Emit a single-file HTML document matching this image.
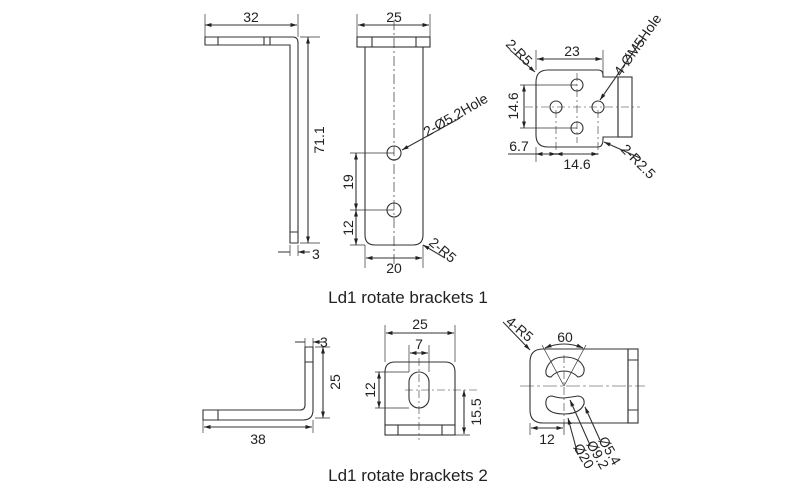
<!DOCTYPE html>
<html><head><style>body{margin:0;background:#fff}svg{display:block}text{font-family:"Liberation Sans",sans-serif;fill:#222}</style></head><body>
<svg width="800" height="500" viewBox="0 0 800 500" xmlns="http://www.w3.org/2000/svg">
<defs><marker id="a" viewBox="0 0 10 10" refX="10" refY="5" markerWidth="6" markerHeight="6" orient="auto-start-reverse"><path d="M0,2L10,5L0,8z" fill="#222"/></marker></defs>
<g fill="none" stroke="#333" stroke-width="1.1">
<path d="M205,37H293Q298,37 298,43V243H290V45H205Z"/>
<path d="M218,37V45M264,37V45M270,37V45M290,232H298"/>
<path d="M205,14V37M298,14V37" stroke-width="0.7"/>
<path d="M205,25H297" marker-start="url(#a)" marker-end="url(#a)"/>
<path d="M300,37H320M300,243H320" stroke-width="0.7"/>
<path d="M308,37V243" marker-start="url(#a)" marker-end="url(#a)"/>
<path d="M290,245V256M298,245V256" stroke-width="0.7"/>
<path d="M278,252H290M310,252H298" marker-end="url(#a)"/>
<rect x="357" y="37" width="73" height="10"/>
<path d="M372,37V47M416,37V47"/>
<path d="M365,47V235Q365,245 375,245H413Q423,245 423,235V47"/>
<path d="M394,20V265" stroke-dasharray="10,3,2,3" stroke-width="0.7"/>
<circle cx="394" cy="153" r="7"/><circle cx="394" cy="210" r="7"/>
<path d="M357,14V37M430,14V37M365,245V268M423,245V268" stroke-width="0.7"/>
<path d="M358,25H429" marker-start="url(#a)" marker-end="url(#a)"/>
<path d="M366,258H422" marker-start="url(#a)" marker-end="url(#a)"/>
<path d="M350,153H394M350,210H394M350,245H365" stroke-width="0.7"/>
<path d="M356,153V210" marker-start="url(#a)" marker-end="url(#a)"/>
<path d="M356,210V245" marker-start="url(#a)" marker-end="url(#a)"/>
<path d="M460,118L402,150" marker-end="url(#a)"/>
<path d="M445,258L423,245" marker-end="url(#a)"/>
<path d="M548,70H598Q603,70 603,75V77H618V137H603V139Q603,147 598,147H548Q536,147 536,135V82Q536,70 548,70Z"/>
<rect x="618" y="77" width="14" height="60"/>
<path d="M525,107H640M577,73V143M556,110V158M598,110V158" stroke-width="0.6" stroke-dasharray="8,3,2,3"/>
<circle cx="577" cy="85" r="6"/><circle cx="556" cy="107" r="6"/><circle cx="598" cy="107" r="6"/><circle cx="577" cy="128" r="6"/>
<path d="M536,50V70M603,50V77" stroke-width="0.7"/>
<path d="M537,59H602" marker-start="url(#a)" marker-end="url(#a)"/>
<path d="M520,85H577M520,128H577" stroke-width="0.7"/>
<path d="M524,85V128" marker-start="url(#a)" marker-end="url(#a)"/>
<path d="M536,147V162" stroke-width="0.7"/>
<path d="M508,154H536M537,154H555M557,154H597" />
<path d="M540,154H536" marker-end="url(#a)"/><path d="M552,154H556" marker-end="url(#a)"/>
<path d="M560,154H556" marker-end="url(#a)"/><path d="M594,154H598" marker-end="url(#a)"/>
<path d="M510,50L535,72" marker-end="url(#a)"/>
<path d="M643,38L600,100" marker-end="url(#a)"/>
<path d="M640,158L604,142" marker-end="url(#a)"/>
<path d="M305,347H313V410Q313,420 303,420H203V410H300Q305,410 305,405Z"/>
<path d="M305,362H313M218,410V420"/>
<path d="M315,347H330M315,418H330M203,420V433M313,420V433" stroke-width="0.7"/>
<path d="M323,347V418" marker-start="url(#a)" marker-end="url(#a)"/>
<path d="M204,427H312" marker-start="url(#a)" marker-end="url(#a)"/>
<path d="M305,338V347M313,338V347" stroke-width="0.7"/>
<path d="M295,342H305M323,342H313" marker-end="url(#a)"/>
<path d="M385,425V372Q385,362 395,362H445Q455,362 455,372V425"/>
<rect x="385" y="425" width="70" height="10"/>
<path d="M398,425V435M442,425V435"/>
<rect x="409" y="372" width="20" height="36" rx="10"/>
<path d="M419,358V440M405,390H480" stroke-width="0.6" stroke-dasharray="8,3,2,3"/>
<path d="M385,325V362M455,325V362M409,345V372M429,345V372" stroke-width="0.7"/>
<path d="M386,333H454" marker-start="url(#a)" marker-end="url(#a)"/>
<path d="M410,353H428" marker-start="url(#a)" marker-end="url(#a)"/>
<path d="M375,372H409M375,408H409M455,435H470" stroke-width="0.7"/>
<path d="M379,372V408" marker-start="url(#a)" marker-end="url(#a)"/>
<path d="M464,390V434" marker-start="url(#a)" marker-end="url(#a)"/>
<path d="M543,349H628V423H543Q530,423 530,410V362Q530,349 543,349Z"/>
<rect x="628" y="349" width="10" height="74"/>
<path d="M628,360H638M628,410H638"/>
<path d="M520,386H645" stroke-width="0.6" stroke-dasharray="14,3,3,3"/>
<path d="M564,355V430" stroke-width="0.6" stroke-dasharray="8,3,2,3"/>
<path d="M546,370Q550,357 564,357Q580,357 584,368Q585,376 578,377Q572,371 564,371Q556,371 551,377Q545,377 546,370Z"/>
<path d="M546,405Q545,396 552,396Q558,398 564,398Q572,397 578,396Q585,397 584,404Q580,414 564,414Q548,414 546,405Z"/>
<path d="M564,386L542,345M564,386L586,345" stroke-width="0.7"/>
<path d="M545,348Q564,340 583,348" marker-start="url(#a)" marker-end="url(#a)"/>
<path d="M530,423V435M564,423V435" stroke-width="0.7"/>
<path d="M531,428H563" marker-start="url(#a)" marker-end="url(#a)"/>
<path d="M503,322L530,350" marker-end="url(#a)"/>
<path d="M600,440L585,407" marker-end="url(#a)"/>
<path d="M590,445L570,400" marker-end="url(#a)"/>
<path d="M578,455L568,418" marker-end="url(#a)"/>
</g>
<g font-size="14">
<text x="251" y="22" text-anchor="middle">32</text>
<text x="394" y="22" text-anchor="middle">25</text>
<text x="324" y="140" text-anchor="middle" transform="rotate(-90 324 140)">71.1</text>
<text x="312" y="259">3</text>
<text x="353" y="182" text-anchor="middle" transform="rotate(-90 353 182)">19</text>
<text x="353" y="228" text-anchor="middle" transform="rotate(-90 353 228)">12</text>
<text x="394" y="273" text-anchor="middle">20</text>
<text x="427" y="137" transform="rotate(-30 427 137)">2-Ø5.2Hole</text>
<text x="428" y="244" transform="rotate(40 428 244)">2-R5</text>
<text x="572" y="56" text-anchor="middle">23</text>
<text x="518" y="106" text-anchor="middle" transform="rotate(-90 518 106)">14.6</text>
<text x="519" y="151" text-anchor="middle">6.7</text>
<text x="577" y="169" text-anchor="middle">14.6</text>
<text x="505" y="45" transform="rotate(45 505 45)">2-R5</text>
<text x="621" y="77" transform="rotate(-55 621 77)">4-ØM5Hole</text>
<text x="620" y="150" transform="rotate(45 620 150)">2-R2.5</text>
<text x="320" y="347">3</text>
<text x="340" y="382" text-anchor="middle" transform="rotate(-90 340 382)">25</text>
<text x="258" y="444" text-anchor="middle">38</text>
<text x="420" y="329" text-anchor="middle">25</text>
<text x="419" y="349" text-anchor="middle">7</text>
<text x="375" y="390" text-anchor="middle" transform="rotate(-90 375 390)">12</text>
<text x="481" y="412" text-anchor="middle" transform="rotate(-90 481 412)">15.5</text>
<text x="565" y="342" text-anchor="middle">60</text>
<text x="505" y="323" transform="rotate(40 505 323)">4-R5</text>
<text x="547" y="444" text-anchor="middle">12</text>
<text x="598" y="440" transform="rotate(60 598 440)">Ø5.4</text>
<text x="586" y="444" transform="rotate(60 586 444)">Ø9.2</text>
<text x="573" y="447" transform="rotate(60 573 447)">Ø20</text>
</g>
<text x="408" y="303" text-anchor="middle" font-size="17">Ld1 rotate brackets 1</text>
<text x="408" y="481" text-anchor="middle" font-size="17">Ld1 rotate brackets 2</text>
</svg>
</body></html>
